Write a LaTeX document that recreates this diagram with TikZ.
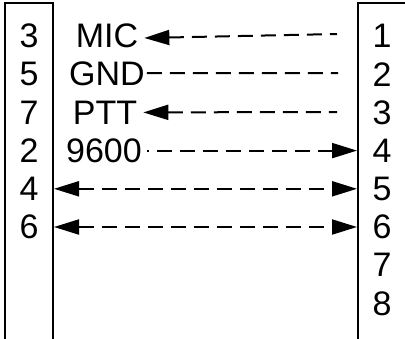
\documentclass[tikz,border=0pt]{standalone}
\usepackage{fontspec}
\setmainfont{Liberation Sans}
\usetikzlibrary{arrows.meta}
\begin{document}
\begin{tikzpicture}[x=1pt,y=-1pt,
  box/.style={line width=2pt, line join=miter},
  lbl/.style={font=\fontsize{34}{34}\selectfont, inner sep=0pt, anchor=center},
  conn/.style={line width=2pt, dash pattern=on 15pt off 8pt},
  tipE/.style={-{Triangle[length=25pt,width=15pt]}},
  tipS/.style={{Triangle[length=25pt,width=15pt]}-},
  tipB/.style={{Triangle[length=25pt,width=15pt]}-{Triangle[length=25pt,width=15pt]}},
]
\useasboundingbox (0,0) rectangle (405,338);
% boxes
\draw[box] (5,340) -- (5,3) -- (53,3) -- (53,340);
\draw[box] (407,3) -- (358,3) -- (358,340);
\coordinate (L) at (54,0);
\coordinate (R) at (357,0);
% left pins
\node[lbl] (l1) at (29,36) {3};
\node[lbl] (l2) at (29,74.2) {5};
\node[lbl] (l3) at (29,112.4) {7};
\node[lbl] (l4) at (29,150.6) {2};
\node[lbl] (l5) at (29,188.8) {4};
\node[lbl] (l6) at (29,227) {6};
% right pins
\node[lbl] (r1) at (382,36) {1};
\node[lbl] (r2) at (382,74.2) {2};
\node[lbl] (r3) at (382,112.4) {3};
\node[lbl] (r4) at (382,150.6) {4};
\node[lbl] (r5) at (382,188.8) {5};
\node[lbl] (r6) at (382,227) {6};
\node[lbl] (r7) at (382,265.2) {7};
\node[lbl] (r8) at (382,303.4) {8};
% signal names
\node[lbl] (mic) at (107,36) {MIC};
\node[lbl] (gnd) at (107,74.2) {GND};
\node[lbl] (ptt) at (105,112.4) {PTT};
\node[lbl] (baud) at (104,150.6) {9600};
% line ends
\coordinate (e1) at (337,34);
\coordinate (e2) at (338,73);
\coordinate (e3) at (337,112);
% connectors
\draw[conn,tipS] ([xshift=6pt,yshift=-2pt]mic.east) -- (e1);
\draw[conn] ([xshift=2pt,yshift=1pt]gnd.east) -- (e2);
\draw[conn,tipS] ([xshift=6pt]ptt.east) -- (e3);
\draw[conn,tipE,dash phase=13pt] ([xshift=5pt]baud.east) -- (baud.east -| R);
\draw[conn,tipB] (l5.east -| L) -- (r5.west -| R);
\draw[conn,tipB] (l6.east -| L) -- (r6.west -| R);
\end{tikzpicture}
\end{document}
